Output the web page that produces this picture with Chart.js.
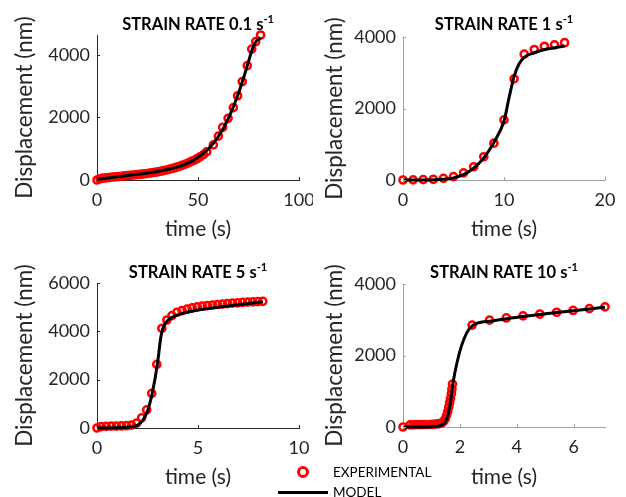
<!DOCTYPE html>
<html>
<head>
<meta charset="utf-8">
<script src="https://cdn.jsdelivr.net/npm/chart.js@4"></script>
<style>
  body { margin: 0; background: #fff; width: 626px; height: 497px; position: relative; overflow: hidden; font-family: Lato, sans-serif; }
  .plot { position: absolute; width: 313px; height: 248px; }
  .ttl { position: absolute; font-weight: bold; font-size: 16.5px; white-space: nowrap; transform: translate(-50%, -50%); color: #000; }
  .ttl sup { font-size: 11px; vertical-align: 7px; line-height: 0; }
  .leg { position: absolute; font-size: 13.5px; color: #000; white-space: nowrap; transform: translateY(-50%); }
  .legCircle { position: absolute; width: 6px; height: 6px; border: 3px solid #ff0000; border-radius: 50%; background: #fff; }
  .legLine { position: absolute; height: 3px; background: #000; }
</style>
</head>
<body>
<canvas id="c1" class="plot" style="left:0;top:0" width="313" height="248"></canvas>
<canvas id="c2" class="plot" style="left:313px;top:0" width="313" height="248"></canvas>
<canvas id="c3" class="plot" style="left:0;top:248px" width="313" height="248"></canvas>
<canvas id="c4" class="plot" style="left:313px;top:248px" width="313" height="248"></canvas>

<div class="ttl" style="left:198px;top:24px">STRAIN RATE 0.1 s<sup>-1</sup></div>
<div class="ttl" style="left:504px;top:24px">STRAIN RATE 1 s<sup>-1</sup></div>
<div class="ttl" style="left:198px;top:272px">STRAIN RATE 5 s<sup>-1</sup></div>
<div class="ttl" style="left:504px;top:272px">STRAIN RATE 10 s<sup>-1</sup></div>

<div class="legCircle" style="left:297px;top:466px"></div>
<div class="leg" style="left:333px;top:472px">EXPERIMENTAL</div>
<div class="legLine" style="left:278px;top:491px;width:50px"></div>
<div class="leg" style="left:333px;top:492px">MODEL</div>

<script>
// strain rate 0.1 1/s
const exp1Time = [0, 1.5, 3, 4.5, 6, 7.5, 9, 10.5, 12, 13.5, 15, 16.5, 18, 19.5, 21, 22.5, 24, 25.5, 27, 28.5, 30, 31.5, 33, 34.5, 36, 37.5, 39, 40.5, 42, 43.5, 45, 46.5, 48, 49.5, 51, 52.7, 54.3, 57.6, 60.1, 62.2, 64.9, 67.5, 69.6, 71.9, 74.4, 76.6, 78.6, 81];
const exp1Disp = [0, 40, 60, 70, 80, 90, 100, 110, 120, 130, 140, 150, 160, 170, 180, 190, 200, 215, 230, 245, 260, 280, 300, 320, 345, 370, 400, 430, 465, 500, 540, 585, 630, 680, 740, 810, 900, 1120, 1400, 1680, 1970, 2310, 2690, 3140, 3650, 4180, 4420, 4630];
const model1Time = [0, 10, 20, 30, 40, 45, 50, 55, 60, 65, 70, 72.5, 75, 77, 79, 81];
const model1Disp = [20, 100, 180, 270, 420, 540, 720, 980, 1380, 1960, 2760, 3250, 3780, 4200, 4450, 4540];

// strain rate 1 1/s
const exp2Time = [0, 1, 2, 3, 4, 5, 6, 7, 8, 9, 10, 11, 12, 13, 14, 15, 16];
const exp2Disp = [0, 5, 10, 20, 45, 95, 200, 370, 650, 1030, 1680, 2830, 3520, 3650, 3740, 3780, 3840];
const model2Time = [0, 2, 4, 5, 6, 7, 8, 9, 10, 10.5, 11, 11.5, 12, 13, 14, 15, 16];
const model2Disp = [0, 0, 20, 60, 150, 330, 620, 1050, 1650, 2300, 2900, 3250, 3430, 3560, 3650, 3700, 3750];

// strain rate 5 1/s
const exp3Time = [0, 0.21, 0.46, 0.71, 0.96, 1.21, 1.46, 1.71, 1.96, 2.21, 2.46, 2.71, 2.96, 3.21, 3.46, 3.71, 3.96, 4.21, 4.46, 4.71, 4.96, 5.21, 5.46, 5.71, 5.96, 6.21, 6.46, 6.71, 6.96, 7.21, 7.46, 7.71, 7.96, 8.21];
const exp3Disp = [0, 60, 70, 75, 80, 85, 95, 120, 200, 420, 750, 1430, 2630, 4120, 4470, 4650, 4790, 4860, 4920, 4970, 5010, 5040, 5070, 5090, 5110, 5130, 5150, 5170, 5180, 5200, 5210, 5220, 5230, 5240];
const model3Time = [0, 1, 1.5, 2, 2.25, 2.5, 2.75, 3, 3.15, 3.25, 3.5, 4, 5, 6, 7, 8.21];
const model3Disp = [0, 10, 30, 110, 300, 700, 1500, 2700, 3700, 4100, 4450, 4680, 4880, 5000, 5100, 5220];

// strain rate 10 1/s
const exp4Time = [0, 0.25, 0.35, 0.45, 0.55, 0.65, 0.75, 0.85, 0.95, 1.05, 1.15, 1.25, 1.35, 1.42, 1.48, 1.53, 1.57, 1.61, 1.64, 1.67, 1.7, 1.72, 1.74, 2.43, 3.04, 3.63, 4.22, 4.81, 5.4, 5.98, 6.55, 7.1];
const exp4Disp = [0, 60, 60, 65, 65, 65, 70, 70, 70, 75, 80, 90, 110, 150, 220, 320, 430, 560, 680, 800, 930, 1060, 1200, 2850, 2990, 3050, 3110, 3160, 3210, 3260, 3310, 3360];
const model4Time = [0, 0.5, 1, 1.2, 1.4, 1.5, 1.6, 1.7, 1.75, 2.43, 3.04, 3.63, 4.22, 4.81, 5.4, 5.98, 6.55, 7.1];
const model4Disp = [0, 2, 10, 25, 70, 150, 400, 850, 1200, 2830, 2960, 3030, 3090, 3150, 3200, 3250, 3300, 3350];

// axis ticks
const xTicks1 = [0, 50, 100];
const xTicks2 = [0, 10, 20];
const xTicks3 = [0, 5, 10];
const xTicks4 = [0, 2, 4, 6];
const yTicks1 = [0, 2000, 4000];
const yTicks2 = [0, 2000, 4000];
const yTicks3 = [0, 2000, 4000, 6000];
const yTicks4 = [0, 2000, 4000];

const FONT = 'Lato, sans-serif';
const TXT = '#262626';

function pts(xs, ys) {
  return xs.map((x, i) => ({ x: x, y: ys[i] }));
}

// MATLAB style inward tick marks
const inwardTicks = {
  id: 'inwardTicks',
  afterDraw(chart, args, opts) {
    const ctx = chart.ctx;
    const a = chart.chartArea;
    ctx.save();
    ctx.strokeStyle = opts.color;
    ctx.lineWidth = 1;
    chart.scales.x.ticks.forEach(t => {
      const px = Math.round(chart.scales.x.getPixelForValue(t.value)) + 0.5;
      ctx.beginPath();
      ctx.moveTo(px, a.bottom);
      ctx.lineTo(px, a.bottom - 3);
      ctx.stroke();
    });
    chart.scales.y.ticks.forEach(t => {
      const py = Math.round(chart.scales.y.getPixelForValue(t.value)) + 0.5;
      ctx.beginPath();
      ctx.moveTo(a.left, py);
      ctx.lineTo(a.left + 3, py);
      ctx.stroke();
    });
    ctx.restore();
  }
};

function makePlot(id, c) {
  const xTickVals = c.xTicks;
  const yTickVals = c.yTicks;
  new Chart(document.getElementById(id), {
    type: 'scatter',
    data: {
      datasets: [
        {
          label: 'MODEL',
          data: pts(c.modelT, c.modelD),
          showLine: true,
          borderColor: '#000',
          borderWidth: 3,
          pointRadius: 0,
          cubicInterpolationMode: 'monotone',
          clip: false
        },
        {
          label: 'EXPERIMENTAL',
          data: pts(c.expT, c.expD),
          showLine: false,
          borderColor: '#ff0000',
          backgroundColor: 'rgba(0,0,0,0)',
          borderWidth: 2.5,
          pointRadius: 3.6,
          clip: false
        }
      ]
    },
    options: {
      responsive: false,
      animation: false,
      events: [],
      layout: { padding: { left: 0, right: c.padRight, top: c.top, bottom: 0 } },
      plugins: {
        legend: { display: false },
        tooltip: { enabled: false },
        inwardTicks: { color: c.axisColor }
      },
      scales: {
        x: {
          type: 'linear',
          min: 0,
          max: c.xMax,
          afterFit: (s) => { s.height = 248 - c.bottom; s.paddingLeft = 0; s.paddingRight = 0; },
          afterBuildTicks: (s) => { s.ticks = xTickVals.map(v => ({ value: v })); },
          grid: { display: false, drawTicks: false },
          border: { display: true, color: c.axisColor, width: 1 },
          ticks: {
            color: TXT,
            padding: 9,
            maxRotation: 0,
            font: { family: FONT, size: 18 },
            callback: (v) => String(v)
          },
          title: {
            display: true,
            text: 'time (s)',
            color: TXT,
            font: { family: FONT, size: 21 },
            padding: { top: 0, bottom: 6 }
          }
        },
        y: {
          type: 'linear',
          min: 0,
          max: c.yMax,
          afterFit: (s) => { s.width = c.left; s.paddingTop = 0; s.paddingBottom = 0; },
          afterBuildTicks: (s) => { s.ticks = yTickVals.map(v => ({ value: v })); },
          grid: { display: false, drawTicks: false },
          border: { display: true, color: c.axisColor, width: 1 },
          ticks: {
            color: TXT,
            padding: 7,
            font: { family: FONT, size: 18 },
            callback: (v) => String(v)
          },
          title: {
            display: true,
            text: 'Displacement (nm)',
            color: TXT,
            font: { family: FONT, size: 22.5 },
            padding: { top: c.titlePad, bottom: 0 }
          }
        }
      }
    },
    plugins: [inwardTicks]
  });
}

makePlot('c1', {
  expT: exp1Time, expD: exp1Disp, modelT: model1Time, modelD: model1Disp,
  xTicks: xTicks1, yTicks: yTicks1, xMax: 100, yMax: 4630,
  left: 97, padRight: 14, top: 35, bottom: 180, axisColor: '#262626', titlePad: 11
});
makePlot('c2', {
  expT: exp2Time, expD: exp2Disp, modelT: model2Time, modelD: model2Disp,
  xTicks: xTicks2, yTicks: yTicks2, xMax: 20, yMax: 4000,
  left: 90, padRight: 21, top: 37, bottom: 180, axisColor: '#a0a0a0', titlePad: 8
});
makePlot('c3', {
  expT: exp3Time, expD: exp3Disp, modelT: model3Time, modelD: model3Disp,
  xTicks: xTicks3, yTicks: yTicks3, xMax: 10, yMax: 6000,
  left: 97, padRight: 14, top: 35, bottom: 180, axisColor: '#262626', titlePad: 11
});
makePlot('c4', {
  expT: exp4Time, expD: exp4Disp, modelT: model4Time, modelD: model4Disp,
  xTicks: xTicks4, yTicks: yTicks4, xMax: 7.1, yMax: 4000,
  left: 90, padRight: 21, top: 36, bottom: 179, axisColor: '#a0a0a0', titlePad: 8
});
</script>
</body>
</html>
